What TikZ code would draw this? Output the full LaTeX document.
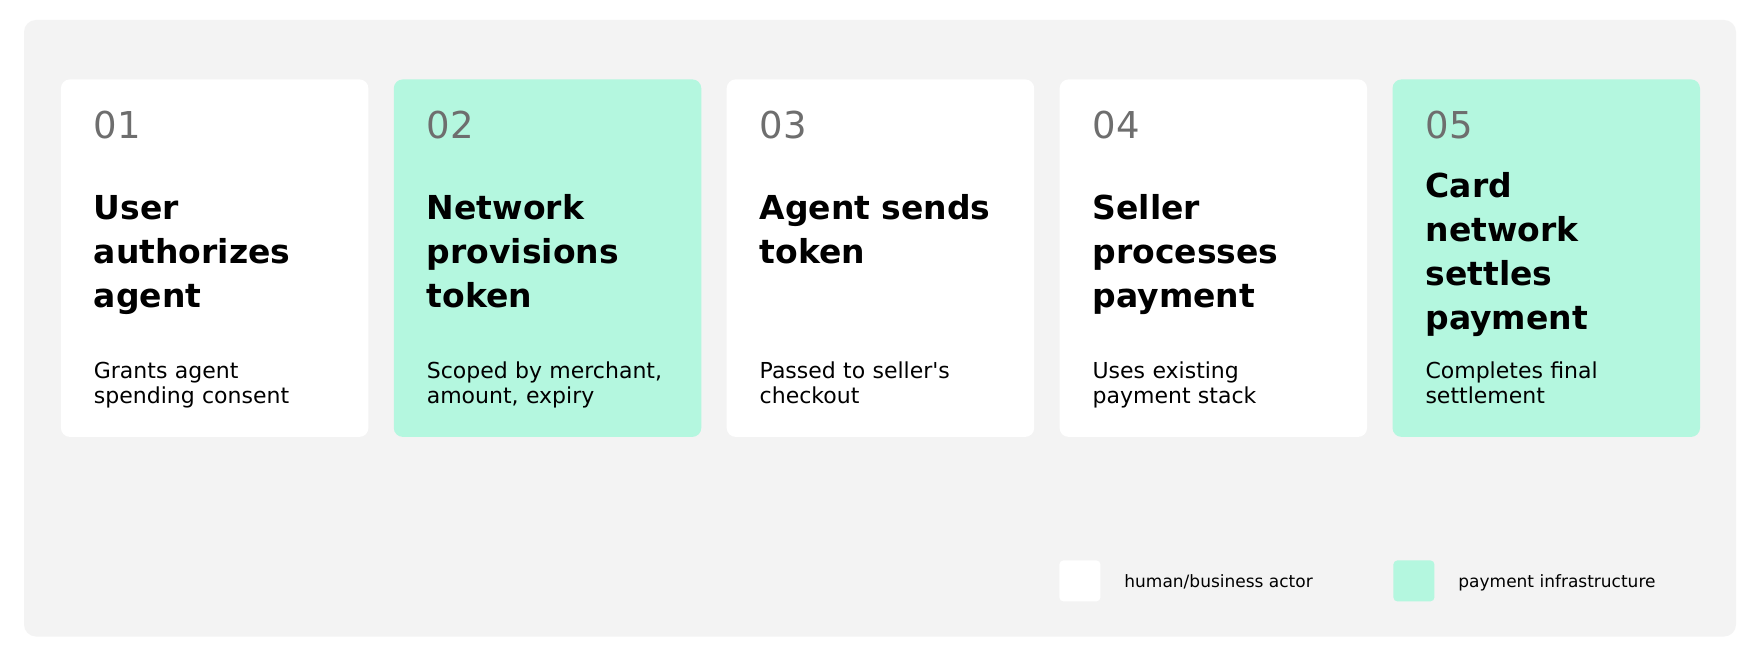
\documentclass[tikz,border=0pt]{standalone}
\usepackage{fontspec}
\setmainfont{DejaVu Sans}
\usepackage{tikz}
\usetikzlibrary{positioning}
\definecolor{panelgray}{HTML}{F3F3F3}
\definecolor{infragreen}{HTML}{B4F7DF}
\definecolor{numgray}{HTML}{6E6E6E}

\begin{document}
\begin{tikzpicture}[x=0.5pt,y=-0.5pt,
  card/.style={rectangle,rounded corners=4.5pt,minimum width=153.75pt,minimum height=178.75pt,inner sep=0pt,anchor=north west},
  stepnum/.style={font=\fontsize{18.5}{22}\selectfont,text=numgray,anchor=base west,inner sep=0pt},
  steptitle/.style={font=\fontsize{16.5}{22}\selectfont\bfseries,anchor=base west,inner sep=0pt,align=left,text width=135pt},
  stepdesc/.style={font=\fontsize{11}{12.5}\selectfont,anchor=base west,inner sep=0pt,align=left,text width=135pt},
  legbox/.style={rectangle,rounded corners=2pt,minimum width=20.5pt,minimum height=20.5pt,inner sep=0pt,anchor=north west},
  legtext/.style={font=\fontsize{8.5}{10}\selectfont,anchor=base west,inner sep=0pt}]
\useasboundingbox[fill=white] (0,0) rectangle (1760,657);
\fill[panelgray,rounded corners=6pt] (24,20) rectangle (1736,636.5);

% cards
\node[card,fill=white] (c1) at (60.5,79) {};
\node[card,fill=infragreen] (c2) at (393.4,79) {};
\node[card,fill=white] (c3) at (726.3,79) {};
\node[card,fill=white] (c4) at (1059.2,79) {};
\node[card,fill=infragreen] (c5) at (1392.1,79) {};

\node[stepnum] (n1) at (93.5,139) {01};
\node[steptitle] (t1) at (93.5,220) {User\\authorizes\\agent};
\node[stepdesc] (d1) at (93.5,379) {Grants agent\\spending consent};

\node[stepnum] (n2) at (426.4,139) {02};
\node[steptitle] (t2) at (426.4,220) {Network\\provisions\\token};
\node[stepdesc] (d2) at (426.4,379) {Scoped by merchant,\\amount, expiry};

\node[stepnum] (n3) at (759.3,139) {03};
\node[steptitle] (t3) at (759.3,220) {Agent sends\\token};
\node[stepdesc] (d3) at (759.3,379) {Passed to seller\textquotesingle s\\checkout};

\node[stepnum] (n4) at (1092.2,139) {04};
\node[steptitle] (t4) at (1092.2,220) {Seller\\processes\\payment};
\node[stepdesc] (d4) at (1092.2,379) {Uses existing\\payment stack};

\node[stepnum] (n5) at (1425.1,139) {05};
\node[steptitle] (t5) at (1425.1,198) {Card\\network\\settles\\payment};
\node[stepdesc] (d5) at (1425.1,379) {Completes final\\settlement};

% legend
\node[legbox,fill=white] (lh) at (1059,560) {};
\node[legtext] (lht) at (1124,587) {human/business actor};
\node[legbox,fill=infragreen] (li) at (1393,560) {};
\node[legtext] (lit) at (1458,587) {payment infrastructure};

\end{tikzpicture}
\end{document}
